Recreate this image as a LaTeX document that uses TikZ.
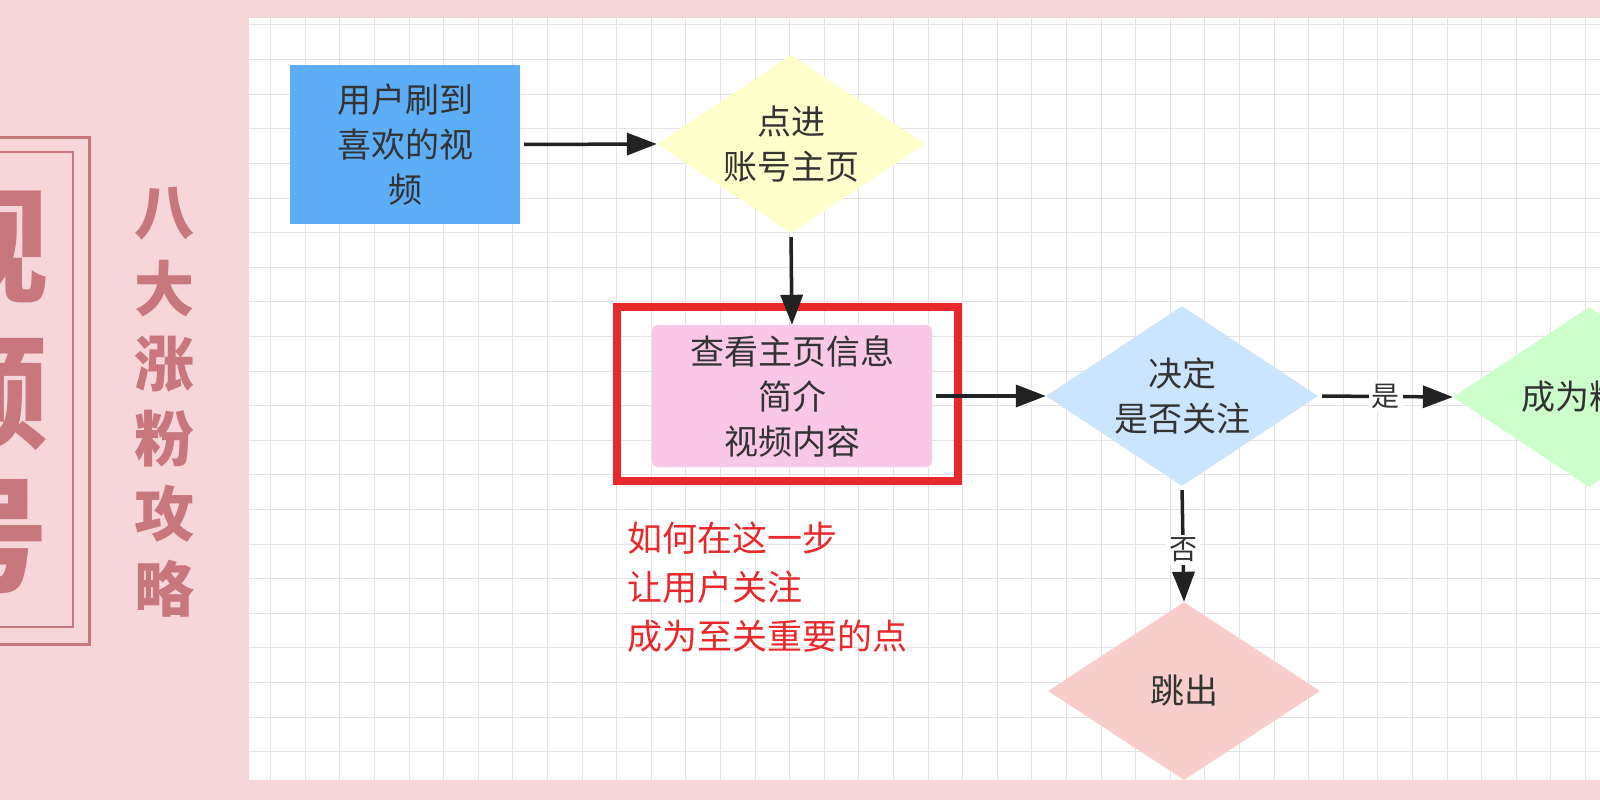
\documentclass[tikz,border=0pt]{standalone}
\usepackage{fontspec}
\newfontfamily\cjk{Noto Sans CJK SC}
\usetikzlibrary{shapes.geometric,arrows.meta}
\definecolor{bgpink}{HTML}{F6D6D9}
\definecolor{rose}{HTML}{C8777C}
\definecolor{gridc}{HTML}{E3E3E3}
\definecolor{txtc}{HTML}{333333}
\definecolor{arrc}{HTML}{222222}
\definecolor{bluebox}{HTML}{5EAEF7}
\definecolor{yellowd}{HTML}{FFFFCC}
\definecolor{blued}{HTML}{CCE5FF}
\definecolor{greend}{HTML}{CCFFCC}
\definecolor{pinkd}{HTML}{F8CECC}
\definecolor{pinkbox}{HTML}{F9C8E6}
\definecolor{redc}{HTML}{E8282B}
\tikzset{
  nodetext/.style={font=\cjk\fontsize{34}{45}\selectfont, text=txtc, align=center},
  procbox/.style={nodetext, rectangle, inner sep=0pt},
  decision/.style={nodetext, diamond, aspect=1.5, inner sep=0pt, minimum width=272pt, minimum height=180pt},
  arr/.style={line width=3.5pt, draw=arrc, -{Triangle[length=30pt,width=22pt]}, shorten <=4pt},
  lbl/.style={font=\cjk\fontsize{28}{28}\selectfont, fill=white, inner sep=3pt, text=txtc},
  bigchar/.style={font=\cjk\bfseries\fontsize{125}{125}\selectfont, text=rose, inner sep=0pt},
  vtitle/.style={font=\cjk\bfseries\fontsize{60}{60}\selectfont, text=rose, inner sep=0pt},
  gridline/.style={draw=gridc, line width=1pt},
  redtext/.style={font=\cjk\fontsize{35}{49}\selectfont, text=redc, align=left, inner sep=0pt}
}
\begin{document}
\begin{tikzpicture}[x=1pt,y=-1pt]
\useasboundingbox (0,0) rectangle (1600,800);
\fill[bgpink] (0,0) rectangle (1600,800);
% left decorative frame and titles
\draw[rose, line width=3pt] (-10,137) rectangle (89,644);
\draw[rose, line width=2.5pt] (-10,152) rectangle (73,627);
\node[bigchar] (big1) at (-14,245) {视};
\node[bigchar] (big2) at (-14,391) {频};
\node[bigchar] (big3) at (-14,537) {号};
\node[vtitle] (t1) at (164,214) {八};
\node[vtitle] (t2) at (164,289) {大};
\node[vtitle] (t3) at (164,364) {涨};
\node[vtitle] (t4) at (164,439) {粉};
\node[vtitle] (t5) at (164,514) {攻};
\node[vtitle] (t6) at (164,589) {略};
% white grid panel
\fill[white] (249,18) rectangle (1600,780);
\begin{scope}
\clip (249,18) rectangle (1600,780);
\foreach \i in {0,...,40} \draw[gridline] ({270.7+34.6*\i},18) -- ({270.7+34.6*\i},780);
\foreach \j in {0,...,22} \draw[gridline] (249,{25+34.6*\j}) -- (1600,{25+34.6*\j});
\end{scope}
% flowchart nodes
\node[procbox, fill=bluebox, minimum width=230pt, minimum height=159pt] (start) at (405,144.5) {用户刷到\\喜欢的视\\频};
\node[decision, fill=yellowd, minimum width=268pt, minimum height=178pt] (enter) at (791,144) {点进\\账号主页};
\node[draw=redc, line width=8pt, minimum width=341pt, minimum height=174pt, inner sep=0pt] (frame) at (787.5,394) {};
\node[procbox, fill=pinkbox, rounded corners=6pt, minimum width=280pt, minimum height=142pt] (info) at (792,396) {查看主页信息\\简介\\视频内容};
\node[decision, fill=blued] (decide) at (1182,396) {决定\\是否关注};
\node[decision, fill=greend] (fan) at (1589,397) {成为粉丝};
\node[decision, fill=pinkd, minimum height=178pt] (leave) at (1184,691) {跳出};
\node[redtext, anchor=west] (note) at (627,587) {如何在这一步\\让用户关注\\成为至关重要的点};
% connectors
\draw[arr] (start.east) -- (enter.west);
\draw[arr] (enter.south) -- (info.north);
\draw[arr] (info.east) -- (decide.west);
\draw[arr] (decide.east) -- node[lbl] (yes) {是} (fan.west);
\draw[arr] (decide.south) -- node[lbl, pos=0.55] (no) {否} (leave.north);
\end{tikzpicture}
\end{document}
